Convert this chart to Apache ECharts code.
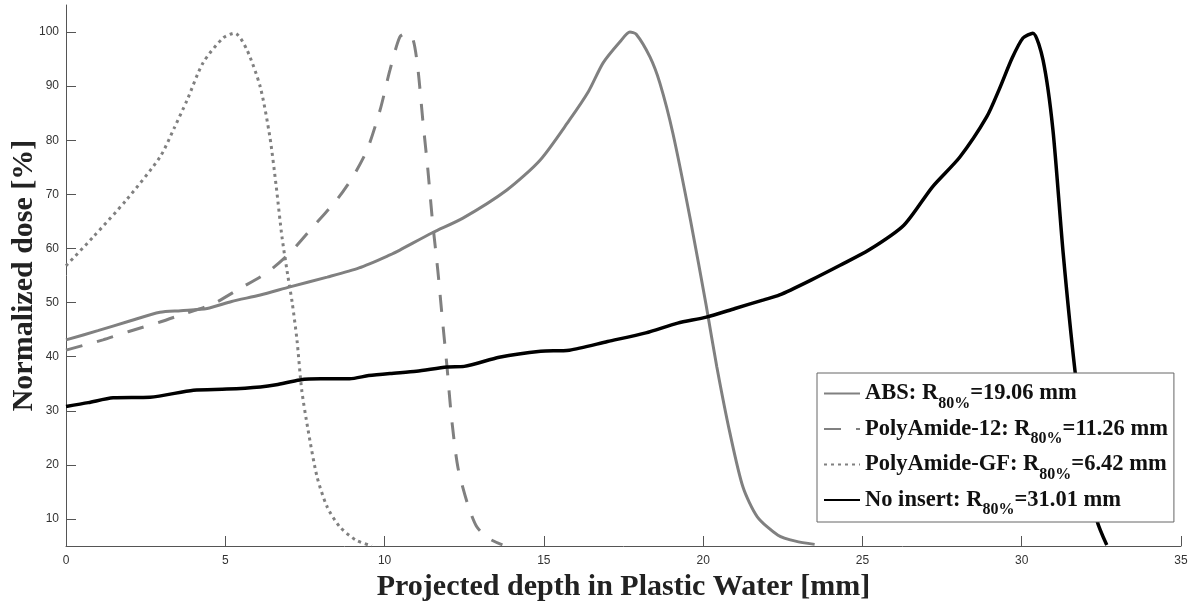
<!DOCTYPE html>
<html>
<head>
<meta charset="utf-8">
<script src="https://cdn.jsdelivr.net/npm/echarts@6/dist/echarts.min.js"></script>
<style>
  html, body { margin: 0; padding: 0; background: #fff; }
  #chart { width: 1194px; height: 608px; }
</style>
</head>
<body>
<div id="chart"></div>
<script>
// Depth-dose profiles: depth in mm, dose normalized to the peak (%)
const absDepth = [0, 1.0, 2.0, 2.95, 3.6, 4.43, 5.2, 6.1, 7.03, 8.2, 9.2, 10.17, 10.48, 11.5, 12.46, 13.84, 14.88, 15.8, 16.4, 16.86, 17.39, 17.7, 17.9, 18.33, 18.64, 19.05, 19.6, 20.1, 20.43, 20.84, 21.25, 21.7, 22.35, 22.9, 23.5];
const absDose  = [43.1, 44.8, 46.6, 48.2, 48.5, 48.9, 50.2, 51.4, 52.9, 54.7, 56.4, 58.8, 59.7, 62.9, 65.6, 70.8, 76.3, 83.7, 89.0, 94.3, 98.2, 100, 99.6, 95.4, 90.6, 81.3, 65.3, 49.3, 38.1, 25.9, 15.9, 10.4, 7.0, 5.9, 5.3];

const pa12Depth = [0, 1.16, 2.0, 2.95, 3.8, 4.6, 5.46, 6.3, 7.03, 7.75, 8.5, 9.0, 9.45, 9.86, 10.17, 10.48, 10.7, 10.9, 11.05, 11.2, 11.36, 11.5, 11.67, 11.8, 11.96, 12.1, 12.3, 12.6, 12.9, 13.3, 13.7];
const pa12Dose  = [41.2, 43.1, 44.7, 46.4, 48.1, 49.7, 52.6, 55.5, 59.2, 64.0, 69.0, 73.2, 78.2, 85.6, 93.0, 99.1, 99.8, 98.5, 93.0, 83.7, 74.5, 65.3, 56.0, 47.8, 38.1, 28.8, 19.6, 12.9, 8.5, 6.3, 5.2];

const gfDepth = [0, 0.85, 1.9, 2.95, 3.4, 3.8, 4.3, 4.93, 5.3, 5.68, 6.1, 6.4, 6.6, 6.78, 6.97, 7.1, 7.25, 7.4, 7.6, 7.88, 8.2, 8.6, 9.1, 9.6];
const gfDose  = [56.8, 62.1, 69.0, 76.9, 82.3, 87.4, 94.3, 98.9, 99.8, 96.7, 89.8, 80.6, 71.4, 62.1, 54.7, 50.0, 43.1, 33.8, 26.4, 17.8, 12.2, 8.5, 6.1, 5.0];

const noneDepth = [0, 0.7, 1.48, 2.64, 4.0, 5.05, 6.1, 6.6, 7.34, 8.0, 8.9, 9.5, 10.17, 11.0, 11.96, 12.5, 13.6, 14.9, 15.8, 17.0, 18.2, 19.2, 20.1, 21.0, 21.9, 22.4, 23.4, 24.3, 25.2, 26.3, 27.2, 28.06, 28.9, 29.3, 29.7, 30.04, 30.35, 30.67, 30.98, 31.3, 31.67, 31.9, 32.1, 32.36, 32.67];
const noneDose  = [30.8, 31.5, 32.4, 32.5, 33.8, 34.0, 34.4, 34.8, 35.7, 35.9, 35.9, 36.5, 36.9, 37.3, 38.1, 38.2, 39.9, 41.0, 41.2, 42.8, 44.4, 46.2, 47.3, 48.9, 50.5, 51.4, 54.2, 56.9, 59.7, 64.3, 71.4, 76.9, 84.3, 89.5, 95.2, 98.9, 99.8, 94.8, 81.9, 59.2, 37.5, 28.0, 20.0, 9.8, 5.2];

// Series names and their R80% ranges (mm)
const seriesNames = ['ABS', 'PolyAmide-12', 'PolyAmide-GF', 'No insert'];
const r80 = ['19.06', '11.26', '6.42', '31.01'];

// Axis ticks
const xTicks = [0, 5, 10, 15, 20, 25, 30, 35];
const yTicks = [10, 20, 30, 40, 50, 60, 70, 80, 90, 100];

const zip = (xs, ys) => xs.map((x, i) => [x, ys[i]]);

const serif = '"Liberation Serif", "DejaVu Serif", serif';
const sans = '"Liberation Sans", Arial, sans-serif';

const chart = echarts.init(document.getElementById('chart'), null, { renderer: 'canvas' });

const lineSeries = (name, data, color, width, type) => ({
  name,
  type: 'line',
  data,
  symbol: 'none',
  showSymbol: false,
  smooth: 0.25,
  lineStyle: { color, width, type, cap: 'butt' },
  itemStyle: { color },
  emphasis: { disabled: true }
});

chart.setOption({
  animation: false,
  backgroundColor: '#fff',
  grid: { left: 66, right: 13, top: 5, bottom: 62, containLabel: false, outerBoundsMode: 'none' },
  xAxis: {
    type: 'value',
    min: xTicks[0],
    max: xTicks[xTicks.length - 1],
    interval: 5,
    name: 'Projected depth in Plastic Water [mm]',
    nameLocation: 'middle',
    nameGap: 21,
    nameTextStyle: { fontFamily: serif, fontWeight: 'bold', fontSize: 30, color: '#222' },
    axisLine: { show: true, lineStyle: { color: '#555', width: 1 } },
    axisTick: { show: true, inside: true, length: 10, lineStyle: { color: '#555' } },
    axisLabel: { color: '#333', fontFamily: sans, fontSize: 12, margin: 9 },
    splitLine: { show: false }
  },
  yAxis: {
    type: 'value',
    min: 5,
    max: 105,
    name: 'Normalized dose [%]',
    nameLocation: 'middle',
    nameGap: 27,
    nameMoveOverlap: false,
    nameTextStyle: { fontFamily: serif, fontWeight: 'bold', fontSize: 30, color: '#222' },
    axisLine: { show: true, lineStyle: { color: '#555', width: 1 } },
    axisTick: { show: true, inside: true, length: 10, customValues: yTicks, lineStyle: { color: '#555' } },
    axisLabel: { color: '#333', fontFamily: sans, fontSize: 12, margin: 7, customValues: yTicks },
    splitLine: { show: false }
  },
  legend: {
    orient: 'vertical',
    left: 817,
    top: 373,
    padding: [9, 6, 4, 6],
    itemWidth: 36,
    itemHeight: 10,
    itemGap: 6,
    backgroundColor: '#fff',
    borderColor: '#666',
    borderWidth: 1,
    borderRadius: 0,
    selectedMode: false,
    itemStyle: { opacity: 0, color: 'transparent', borderWidth: 0 },
    data: seriesNames,
    formatter: (name) => {
      const i = seriesNames.indexOf(name);
      return '{m|' + name + ': R}{s|80%}{m|=' + r80[i] + ' mm}';
    },
    textStyle: {
      fontFamily: serif,
      fontWeight: 'bold',
      fontSize: 22.5,
      color: '#111',
      rich: {
        m: { fontFamily: serif, fontWeight: 'bold', fontSize: 22.5, lineHeight: 36, color: '#111' },
        s: { fontFamily: serif, fontWeight: 'bold', fontSize: 16, lineHeight: 15, verticalAlign: 'bottom', color: '#111' }
      }
    }
  },
  series: [
    lineSeries(seriesNames[0], zip(absDepth, absDose), '#808080', 3, 'solid'),
    lineSeries(seriesNames[1], zip(pa12Depth, pa12Dose), '#808080', 3, [17, 15]),
    lineSeries(seriesNames[2], zip(gfDepth, gfDose), '#808080', 3, [3, 4]),
    lineSeries(seriesNames[3], zip(noneDepth, noneDose), '#000000', 3.5, 'solid')
  ]
});
</script>
</body>
</html>
